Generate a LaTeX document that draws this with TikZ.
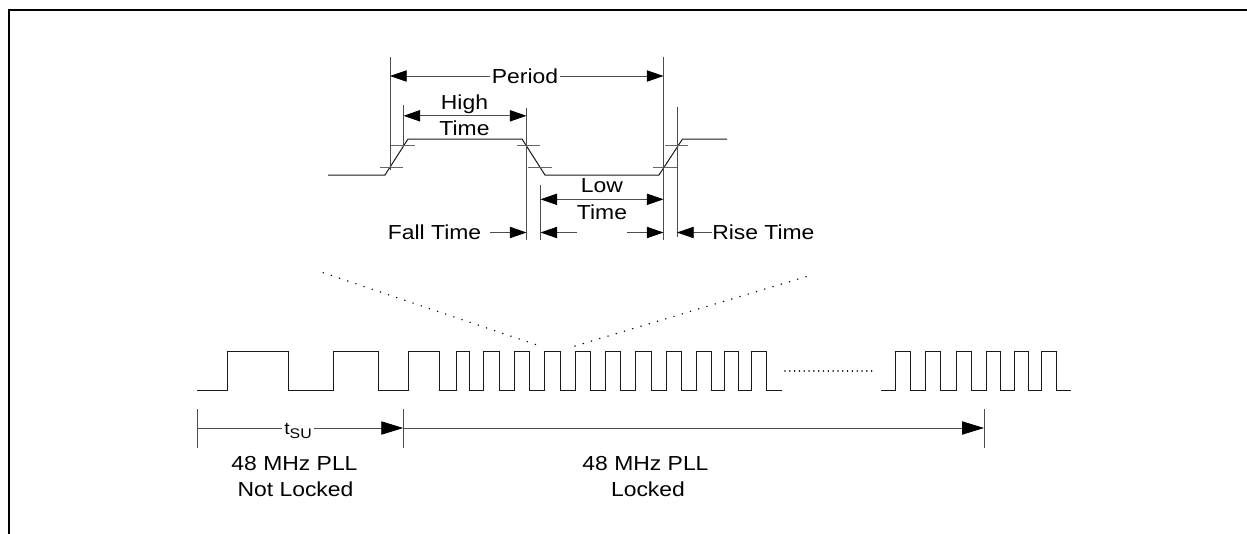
\documentclass[tikz,border=0pt]{standalone}
\usepackage{fontspec}
\setmainfont{Liberation Sans}[FakeStretch=1.13]
\usetikzlibrary{arrows.meta}
\begin{document}
\begin{tikzpicture}[x=0.75pt,y=-0.75pt,
  wave/.style={line width=0.75pt, black!90, line join=miter},
  dim/.style={line width=0.6pt, black!70},
  tickline/.style={line width=0.6pt, black!60},
  arr/.style={dim, -{Triangle[length=12.5pt,width=8.5pt,color=black]}},
  barr/.style={dim, {Triangle[length=12.5pt,width=8.5pt,color=black]}-{Triangle[length=12.5pt,width=8.5pt,color=black]}},
  bigarr/.style={dim, -{Triangle[length=16.5pt,width=10pt,color=black]}},
  lbl/.style={font=\fontsize{15.2}{19.5}\selectfont, inner sep=0pt, anchor=base},
  dotdiag/.style={line width=1.2pt, dash pattern=on 0.01pt off 6.45pt, line cap=round},
  dothor/.style={line width=1.2pt, dash pattern=on 0.01pt off 3.6pt, line cap=round},
  frame/.style={line width=1.6pt, black}
]
\useasboundingbox (0,0) rectangle (1247,533);

% frame (only top and left edges visible)
\coordinate (fb) at (9,540);
\coordinate (fc) at (9,10);
\coordinate (fr) at (1260,10);
\draw[frame] (fb) -- (fc) -- (fr);

% ---------------- zoomed clock period ----------------
\draw[wave] (328,175) -- (385,175) -- (408,139) -- (522,139) -- (545,175)
  -- (659,175) -- (682.5,139) -- (727,139);

% threshold ticks
\draw[tickline] (391,145.7) -- (415,145.7);
\draw[tickline] (516.7,145.7) -- (540,145.7);
\draw[tickline] (665,145.7) -- (688.3,145.7);
\draw[tickline] (380,167.3) -- (403.3,167.3);
\draw[tickline] (528.3,167.3) -- (551.7,167.3);
\draw[tickline] (653,167.3) -- (677.3,167.3);

% extension lines
\coordinate (v1t) at (390,56.7);   \coordinate (v1b) at (390,170);
\coordinate (v2t) at (403.5,105);  \coordinate (v2b) at (403.5,147);
\coordinate (v3t) at (526.5,108);  \coordinate (v3b) at (526.5,240);
\coordinate (v4t) at (540.5,185);  \coordinate (v4b) at (540.5,240);
\coordinate (v5t) at (663.5,56.7); \coordinate (v5b) at (663.5,240);
\coordinate (v6t) at (677,106.7);  \coordinate (v6b) at (677,237);
\foreach \v in {v1,v2,v3,v4,v5,v6} \draw[dim] (\v t) -- (\v b);

% Period
\coordinate (pl) at (390,76); \coordinate (pr) at (663.5,76);
\draw[barr] (pl) -- (pr);
\node[lbl, fill=white, inner xsep=1.5pt] (period) at (525,83.3) {Period};

% High Time
\coordinate (hl) at (403.5,115.8); \coordinate (hr) at (526.5,115.8);
\draw[barr] (hl) -- (hr);
\node[lbl] (high) at (464.5,109) {High};
\node[lbl] (hightime) at (464.5,135) {Time};

% Low Time
\coordinate (ll) at (540.5,199.3); \coordinate (lr) at (663.5,199.3);
\draw[barr] (ll) -- (lr);
\node[lbl] (low) at (602,192.7) {Low};
\node[lbl] (lowtime) at (602,219) {Time};

% Fall / Rise time
\node[lbl, anchor=base east] (fall) at (481.5,239.3) {Fall Time};
\coordinate (fa) at (490,232.5);   \coordinate (fb2) at (526.5,232.5);
\draw[arr] (fa) -- (fb2);
\coordinate (la) at (576.7,232.5); \coordinate (lb) at (540.5,232.5);
\draw[arr] (la) -- (lb);
\coordinate (ra) at (626.7,232.5); \coordinate (rb) at (663.5,232.5);
\draw[arr] (ra) -- (rb);
\node[lbl, anchor=base west] (rise) at (712,239.5) {Rise Time};
\draw[arr] (rise.west |- rb) -- (677,232.5);

% zoom lines
\coordinate (z1a) at (323.3,272.7); \coordinate (z1b) at (540,346);
\coordinate (z2a) at (575,346);     \coordinate (z2b) at (811.7,275);
\draw[dotdiag] (z1a) -- (z1b);
\draw[dotdiag] (z2a) -- (z2b);

% ---------------- clock train ----------------
\draw[wave] (197,390) -| (227.3,351) -| (288.3,390) -| (333.3,351) -| (378.3,390)
  -| (408.3,351) -| (439.3,390) -| (456.7,351) -| (469.3,390) -| (483.3,351)
  -| (499.3,390) -| (514.3,351) -| (529.3,390) -| (544.3,351) -| (560,390)
  -| (575,351) -| (590,390) -| (605,351) -| (620,390) -| (635.7,351)
  -| (651.7,390) -| (666.7,351) -| (681.7,390) -| (696.7,351) -| (711.7,390)
  -| (724,351) -| (738.3,390) -| (751.7,351) -| (766.7,390) -- (781.7,390);
\coordinate (da) at (785,370.7); \coordinate (db) at (871.7,370.7);
\draw[dothor] (da) -- (db);
\draw[wave] (881,390) -| (895.7,351) -| (910.7,390) -| (925,351) -| (940.7,390)
  -| (956,351) -| (971.7,390) -| (986.7,351) -| (1000,390) -| (1014.3,351)
  -| (1028.3,390) -| (1041.7,351) -| (1056,390) -- (1070.7,390);

% ---------------- lock timing ----------------
\coordinate (b1t) at (197.3,409); \coordinate (b1b) at (197.3,448);
\coordinate (b2t) at (403.3,409); \coordinate (b2b) at (403.3,448);
\coordinate (b3t) at (984,409);   \coordinate (b3b) at (984,448);
\foreach \v in {b1,b2,b3} \draw[dim] (\v t) -- (\v b);
\coordinate (a1) at (197.3,428); \coordinate (a2) at (403.3,428); \coordinate (a3) at (984,428);
\draw[bigarr] (a1) -- (a2);
\draw[bigarr] (a2) -- (a3);
\node[lbl, fill=white, inner xsep=1.5pt] (tsu) at (298,434)
  {\fontsize{13}{15}\selectfont t\raisebox{-3.2pt}{\fontsize{10.5}{12}\selectfont SU}};

\node[lbl] (nl1) at (294.5,470) {48 MHz PLL};
\node[lbl] (nl2) at (295.5,496) {Not Locked};
\node[lbl] (lk1) at (645.5,470) {48 MHz PLL};
\node[lbl] (lk2) at (648,496) {Locked};
\end{tikzpicture}
\end{document}
